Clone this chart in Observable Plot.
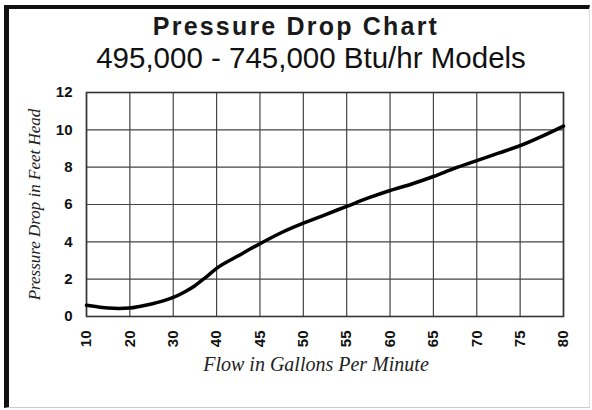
<!DOCTYPE html>
<html><head><meta charset="utf-8">
<script src="https://cdn.jsdelivr.net/npm/d3@7"></script>
<script src="https://cdn.jsdelivr.net/npm/@observablehq/plot@0.6"></script>
<style>
html,body{margin:0;padding:0;background:#fff;width:592px;height:410px;overflow:hidden;position:relative}
#box{position:absolute;left:4px;top:5px;width:586px;height:403px;box-sizing:border-box;border-left:5px solid #111;border-top:4px solid #111;border-bottom:1px solid #ccc;border-right:1px solid #ddd}
#title{position:absolute;left:0px;top:14px;width:592px;text-align:center;font-family:"Liberation Sans",Arial,sans-serif;font-weight:bold;font-size:25px;line-height:25px;letter-spacing:2.2px;color:#1a1a1a;white-space:nowrap}
#subtitle{position:absolute;left:15px;top:43px;width:592px;text-align:center;font-family:"Liberation Sans",Arial,sans-serif;font-size:29.5px;line-height:29.5px;color:#111;white-space:nowrap}
#chart{position:absolute;left:0;top:70px}
</style>
</head><body>
<div id="box"></div>
<div id="title">Pressure Drop Chart</div>
<div id="subtitle">495,000 - 745,000 Btu/hr Models</div>
<div id="chart"></div>
<script>
const xTickLabels = [10, 20, 30, 40, 45, 50, 55, 60, 65, 70, 75, 80];
const yTicks = [0, 2, 4, 6, 8, 10, 12];
const flow = [10, 12.5, 15, 17.5, 20, 22.5, 25, 27.5, 30, 32.5, 35, 37.5, 40, 42.5, 45, 47.5, 50, 52.5, 55, 57.5, 60, 62.5, 65, 67.5, 70, 72.5, 75, 77.5, 80];
const pressure = [0.6, 0.52, 0.45, 0.43, 0.45, 0.55, 0.67, 0.82, 1.02, 1.3, 1.65, 2.1, 2.58, 3.25, 3.9, 4.5, 5.0, 5.45, 5.9, 6.35, 6.75, 7.1, 7.5, 7.95, 8.35, 8.75, 9.15, 9.65, 10.2];
const xLabel = "Flow in Gallons Per Minute";
const yLabel = "Pressure Drop in Feet Head";

// x axis is drawn with evenly spaced ticks (non-uniform values): map flow to tick index
const tickIndex = d3.range(xTickLabels.length);
const idx = d3.scaleLinear().domain(xTickLabels).range(tickIndex);
const data = flow.map((f, k) => ({i: idx(f), p: pressure[k]}));

const gridStyle = {stroke: "#444", strokeOpacity: 1, strokeWidth: 1.2};
const chart = Plot.plot({
  width: 592, height: 330,
  marginTop: 22, marginLeft: 86, marginRight: 29, marginBottom: 84,
  x: {domain: [0, xTickLabels.length - 1]},
  y: {domain: [0, 12]},
  style: {fontFamily: "'Liberation Sans', Arial, sans-serif", fontSize: "15px", fontWeight: "bold", color: "#111", background: "transparent", overflow: "visible"},
  marks: [
    Plot.gridX(tickIndex, gridStyle),
    Plot.gridY(yTicks, gridStyle),
    Plot.frame({stroke: "#333", strokeWidth: 1.6}),
    Plot.line(data, {x: "i", y: "p", curve: "monotone-x", stroke: "#000", strokeWidth: 3.5}),
    Plot.axisX(tickIndex, {tickFormat: i => xTickLabels[i], tickRotate: -90, tickSize: 0, tickPadding: 14, label: null}),
    Plot.axisY(yTicks, {tickSize: 0, tickPadding: 14, label: null}),
    Plot.text([xLabel], {text: d => d, frameAnchor: "bottom", dx: -9, dy: 54, lineAnchor: "bottom", fontFamily: "'Liberation Serif', 'Times New Roman', serif", fontStyle: "italic", fontWeight: "normal", fontSize: 20, fill: "#222"}),
    Plot.text([yLabel], {text: d => d, frameAnchor: "left", rotate: -90, dx: -52, textAnchor: "middle", lineAnchor: "middle", fontFamily: "'Liberation Serif', 'Times New Roman', serif", fontStyle: "italic", fontWeight: "normal", fontSize: 17, fill: "#222"})
  ]
});
document.getElementById("chart").appendChild(chart);
</script>
</body></html>
